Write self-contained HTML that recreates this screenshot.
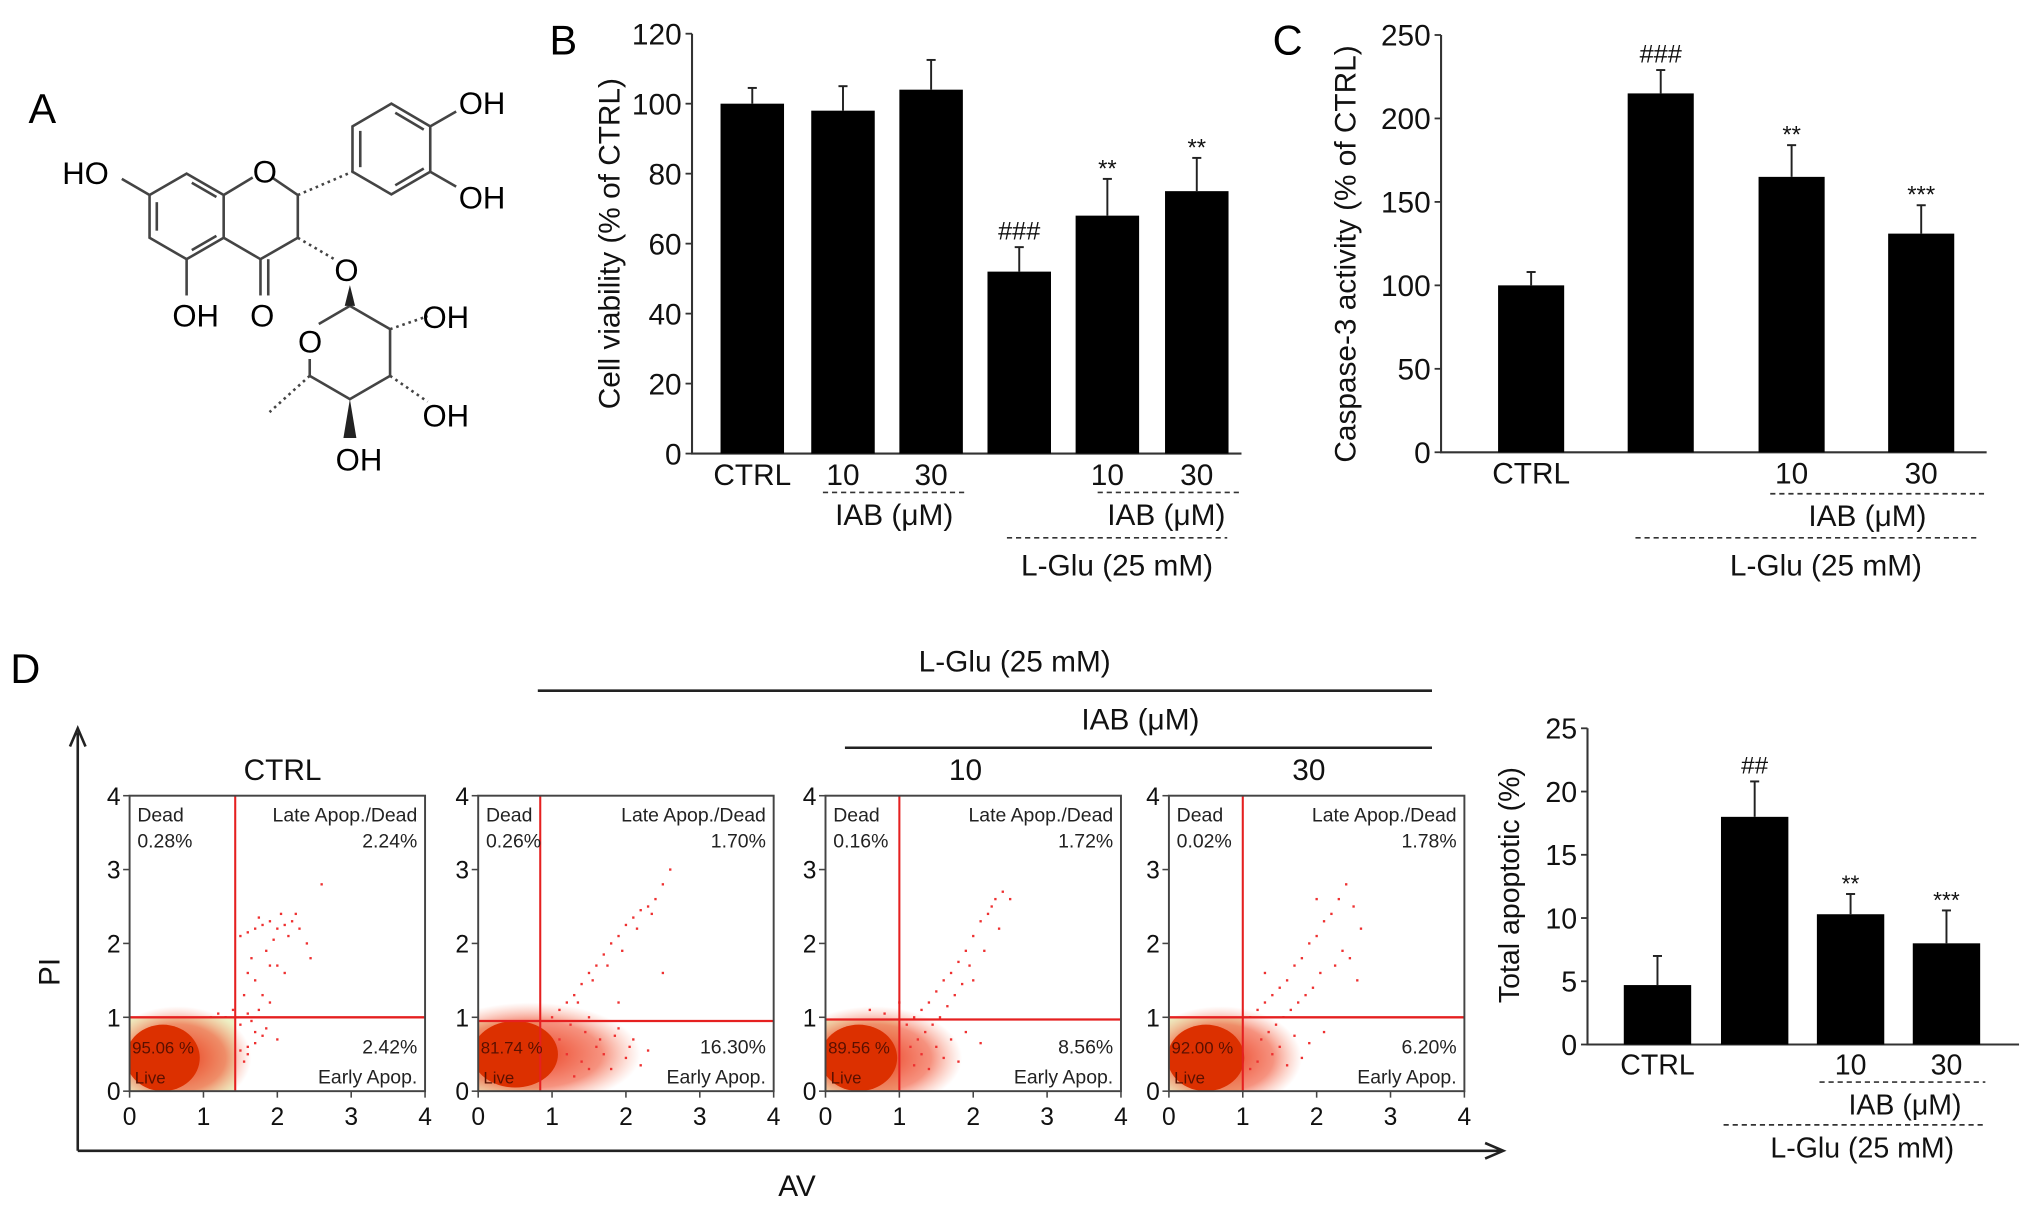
<!DOCTYPE html>
<html><head><meta charset="utf-8"><style>
html,body{margin:0;padding:0;background:#fff;}
svg{display:block;font-family:"Liberation Sans",sans-serif;}
</style></head><body>
<svg id="fig" width="2032" height="1210" viewBox="0 0 1568 933.7" xmlns="http://www.w3.org/2000/svg">
<rect width="1568" height="934" fill="#fff"/>
<!-- Panel A: chemical structure -->
<g stroke="#444" stroke-width="2" fill="none">
<text x="22" y="95" font-size="32" fill="#000" stroke="none">A</text>
<polygon points="144,134 172.6,150.5 172.6,183.5 144,200 115.4,183.5 115.4,150.5"/>
<line x1="121" y1="156" x2="121" y2="178"/><line x1="148" y1="193" x2="167" y2="182"/><line x1="148" y1="141" x2="167" y2="152"/>
<polyline points="172.6,150.5 195,137"/><polyline points="210,137 229.8,150.5 229.8,183.5 201,200 172.6,183.5"/>
<line x1="201" y1="200" x2="201" y2="228"/><line x1="207" y1="200" x2="207" y2="228"/>
<line x1="115.4" y1="150.5" x2="94" y2="138"/><line x1="144" y1="200" x2="144" y2="228"/>
<polygon points="302,80 332,97.5 332,132.5 302,150 272,132.5 272,97.5"/>
<line x1="278" y1="101" x2="278" y2="129"/><line x1="305" y1="143" x2="327" y2="130"/><line x1="305" y1="87" x2="327" y2="100"/>
<line x1="229.8" y1="150.5" x2="272" y2="132.5" stroke-dasharray="2,3"/>
<line x1="332" y1="97.5" x2="352" y2="86"/><line x1="332" y1="132.5" x2="352" y2="144"/>
<line x1="229.8" y1="183.5" x2="258" y2="200" stroke-dasharray="2,3"/>
<polyline points="246,250 270,236 301,254 301,290 270,308 239,290 239,277"/>
<polygon points="266,236 274,236 270,220" fill="#222" stroke="none"/>
<line x1="301" y1="254" x2="330" y2="244" stroke-dasharray="2,3"/>
<line x1="301" y1="290" x2="330" y2="310" stroke-dasharray="2,3"/>
<polygon points="270,308 265,338 275,338" fill="#222" stroke="none"/>
<line x1="239" y1="290" x2="208" y2="318" stroke-dasharray="2,3"/>
<g fill="#000" stroke="none" font-size="24">
<text x="48" y="142">HO</text><text x="195" y="141">O</text><text x="354" y="88">OH</text><text x="354" y="161">OH</text>
<text x="258" y="217">O</text><text x="193" y="252">O</text><text x="133" y="252">OH</text><text x="230" y="272">O</text>
<text x="326" y="253">OH</text><text x="326" y="329">OH</text><text x="259" y="363">OH</text>
</g></g>
<g id="charts"></g>
</svg>
<script>
// ---- Panel B data ----
const bCats = ["CTRL","10","30","","10","30"];
const bVals = [100, 98, 104, 52, 68, 75];
const bErr = [104.5, 105, 112.5, 59, 78.5, 84.5];
const bSig = ["","","","###","**","**"];
const bTicks = [0,20,40,60,80,100,120];
// ---- Panel C data ----
const cCats = ["CTRL","","10","30"];
const cVals = [100, 215, 165, 131];
const cErr = [108, 229, 184, 148];
const cSig = ["","###","**","***"];
const cTicks = [0,50,100,150,200,250];
// ---- Panel D bar data ----
const dCats = ["CTRL","","10","30"];
const dVals = [4.7, 18, 10.3, 8];
const dErr = [7, 20.8, 11.9, 10.6];
const dSig = ["","##","**","***"];
const dTicks = [0,5,10,15,20,25];
// ---- Flow cytometry data ----
const flowTitles = ["CTRL","","10","30"];
const gateX = [1.43, 0.84, 1.0, 1.0];
const gateY = [1.0, 0.95, 0.97, 1.0];
const pctDead = ["0.28%","0.26%","0.16%","0.02%"];
const pctLate = ["2.24%","1.70%","1.72%","1.78%"];
const pctEarly = ["2.42%","16.30%","8.56%","6.20%"];
const pctLive = ["95.06 %","81.74 %","89.56 %","92.00 %"];
const clusterX = [0.45, 0.5, 0.45, 0.5];
const clusterY = [0.45, 0.5, 0.45, 0.45];
const clusterRx = [0.5, 0.58, 0.52, 0.52];
const clusterRy = [0.45, 0.45, 0.45, 0.45];
const sprayRx = [1.0, 1.5, 1.2, 1.1];
const tailX1 = [1.5,1.6,1.7,1.8,1.9,2.0,2.1,2.2,2.3,1.75,1.95,2.05,2.15,1.65,1.85,2.25,1.6,1.7,1.9,2.0,2.1,1.55,1.8,2.4,2.6,1.6,1.75,1.9,1.5,1.7,1.85,2.0,1.6,1.4,1.3,1.2,1.1,1.55,2.45,1.65,1.6,1.7,1.8,1.5];
const tailY1 = [2.1,2.15,2.2,2.25,2.3,2.2,2.25,2.3,2.2,2.35,2.05,2.4,2.1,1.8,1.9,2.4,1.6,1.5,1.7,1.7,1.6,1.3,1.3,2.0,2.8,1.05,1.1,1.2,0.9,0.8,0.85,0.7,0.6,1.1,1.0,1.05,1.0,0.4,1.8,0.95,0.5,0.65,0.75,0.55];
const tailX2 = [1.0,1.1,1.2,1.3,1.4,1.5,1.6,1.7,1.8,1.9,2.0,2.1,2.2,2.3,2.4,2.5,2.6,1.35,1.55,1.75,1.95,2.15,2.35,1.25,1.45,1.65,1.85,2.05,1.2,1.4,1.6,1.8,2.0,2.2,1.3,1.5,1.7,1.9,2.1,2.3,2.5,1.1,1.5,1.9];
const tailY2 = [1.0,1.1,1.2,1.3,1.45,1.6,1.7,1.85,2.0,2.1,2.25,2.35,2.45,2.5,2.6,2.8,3.0,1.2,1.5,1.7,1.9,2.2,2.4,0.9,0.8,0.7,0.75,0.6,0.5,0.4,0.6,0.3,0.45,0.35,0.2,0.3,0.5,0.85,0.7,0.55,1.6,0.7,1.0,1.2];
const tailX3 = [1.1,1.2,1.3,1.4,1.5,1.6,1.7,1.8,1.9,2.0,2.1,2.2,2.3,2.4,2.25,2.35,2.15,1.95,1.85,1.75,1.65,1.55,1.45,1.35,1.25,1.15,1.3,1.5,1.7,1.9,2.1,1.2,1.4,1.6,1.8,2.0,0.8,0.6,2.5,1.0];
const tailY3 = [0.9,1.0,1.1,1.2,1.35,1.5,1.6,1.75,1.9,2.1,2.3,2.4,2.6,2.7,2.5,2.2,1.9,1.7,1.45,1.3,1.15,1.0,0.9,0.8,0.7,0.6,0.5,0.6,0.7,0.8,0.65,0.35,0.3,0.45,0.4,1.5,1.05,1.1,2.6,1.2];
const tailX4 = [1.1,1.2,1.3,1.4,1.5,1.6,1.7,1.8,1.9,2.0,2.1,2.2,2.3,2.4,2.5,2.6,2.35,2.25,2.05,1.95,1.85,1.75,1.65,1.55,1.45,1.35,1.25,1.5,1.7,1.9,2.1,1.2,1.4,1.6,1.8,2.45,2.55,2.0,1.3,1.1];
const tailY4 = [1.0,1.1,1.2,1.3,1.4,1.5,1.7,1.8,2.0,2.1,2.3,2.4,2.6,2.8,2.5,2.2,1.9,1.7,1.6,1.4,1.3,1.2,1.1,1.0,0.9,0.8,0.7,0.6,0.75,0.65,0.8,0.4,0.5,0.35,0.45,1.8,1.5,2.6,1.6,0.3];
const tailsX = [tailX1, tailX2, tailX3, tailX4];
const tailsY = [tailY1, tailY2, tailY3, tailY4];
const flowTicks = [0,1,2,3,4];

const NS = "http://www.w3.org/2000/svg";
const root = document.getElementById("charts");
function mk(tag, attrs, parent, txt) {
  const e = document.createElementNS(NS, tag);
  for (const k in attrs) e.setAttribute(k, attrs[k]);
  if (txt !== undefined) e.textContent = txt;
  (parent || root).appendChild(e);
  return e;
}

function barChart(opt) {
  const g = mk("g", {});
  
  
  const ys = v => opt.y0 - (v - 0) / opt.ymax * (opt.y0 - opt.ytop);
  const axis = mk("path", {d: `M${opt.ax},${opt.ytop} L${opt.ax},${opt.y0} L${opt.axEnd},${opt.y0}`, stroke: "#333", "stroke-width": 1.6, fill: "none"}, g);
  
  
  opt.ticks.forEach(t => {
    mk("line", {x1: opt.ax - 5, x2: opt.ax, y1: ys(t), y2: ys(t), stroke: "#333", "stroke-width": 1.4}, g);
    const tl = mk("text", {x: opt.ax - 8, y: ys(t) + opt.fs * 0.36, "font-size": opt.fs, "text-anchor": "end", fill: "#111"}, g, String(t));
    
    
  });
  opt.vals.forEach((v, i) => {
    const x = opt.bx[i];
    const b = mk("rect", {x: x, y: ys(v), width: opt.bw, height: opt.y0 - ys(v), fill: "#000"}, g);
    
    
    const cx = x + opt.bw / 2;
    mk("line", {x1: cx, x2: cx, y1: ys(v), y2: ys(opt.err[i]), stroke: "#222", "stroke-width": 1.5}, g);
    mk("line", {x1: cx - 3.5, x2: cx + 3.5, y1: ys(opt.err[i]), y2: ys(opt.err[i]), stroke: "#222", "stroke-width": 1.5}, g);
    if (opt.sig[i]) {
      const st = opt.sig[i].startsWith("#");
      const s = mk("text", {x: cx, y: ys(opt.err[i]) - (st ? 6 : 2), "font-size": st ? opt.fs * 0.85 : opt.fs * 0.8, "text-anchor": "middle", fill: "#111"}, g, opt.sig[i]);
      
      
    }
    if (opt.cats[i]) {
      const c = mk("text", {x: cx, y: opt.y0 + opt.fs * 1.05, "font-size": opt.fs, "text-anchor": "middle", fill: "#111"}, g, opt.cats[i]);
      
      
    }
  });
  const t = mk("text", {transform: `translate(${opt.tx},${opt.ty}) rotate(-90)`, "font-size": opt.fs, "text-anchor": "middle", fill: "#111"}, g, opt.title);
  
  
  opt.dashes.forEach(d => {
    const l = mk("line", {x1: d[0], x2: d[1], y1: d[2], y2: d[2], stroke: "#333", "stroke-width": 1.3, "stroke-dasharray": "4,3"}, g);
    
    
  });
  opt.groups.forEach(d => {
    const l = mk("text", {x: d[0], y: d[1], "font-size": opt.fs, "text-anchor": "middle", fill: "#111"}, g, d[2]);
    
    
  });
  return g;
}

barChart({name: "panel-b-cell-viability", ax: 534, axEnd: 958, y0: 350, ytop: 26, ymax: 120, ticks: bTicks, vals: bVals, err: bErr, sig: bSig, cats: bCats,
  bx: [556, 626, 694, 762, 830, 899], bw: 49, fs: 23, title: "Cell viability (% of CTRL)", tx: 478, ty: 188,
  dashes: [[635, 744, 380], [847, 958, 380], [777, 947, 415]],
  groups: [[690, 405, "IAB (μM)"], [900, 405, "IAB (μM)"], [862, 444, "L-Glu (25 mM)"]]});
mk("text", {x: 424, y: 42, "font-size": 32, fill: "#000"}, root, "B");

barChart({name: "panel-c-caspase3", ax: 1112, axEnd: 1533, y0: 349, ytop: 27, ymax: 250, ticks: cTicks, vals: cVals, err: cErr, sig: cSig, cats: cCats,
  bx: [1156, 1256, 1357, 1457], bw: 51, fs: 23, title: "Caspase-3 activity (% of CTRL)", tx: 1046, ty: 196,
  dashes: [[1366, 1532, 381], [1262, 1526, 415]],
  groups: [[1441, 406, "IAB (μM)"], [1409, 444, "L-Glu (25 mM)"]]});
mk("text", {x: 982, y: 42, "font-size": 32, fill: "#000"}, root, "C");

barChart({name: "panel-d-total-apoptotic", ax: 1225, axEnd: 1558, y0: 806, ytop: 562, ymax: 25, ticks: dTicks, vals: dVals, err: dErr, sig: dSig, cats: dCats,
  bx: [1253, 1328, 1402, 1476], bw: 52, fs: 22, title: "Total apoptotic (%)", tx: 1172, ty: 683,
  dashes: [[1404, 1532, 835], [1330, 1532, 868]],
  groups: [[1470, 860, "IAB (μM)"], [1437, 893, "L-Glu (25 mM)"]]});
mk("text", {x: 8, y: 527, "font-size": 32, fill: "#000"}, root, "D");

// ---- Flow plots ----
const defs = mk("defs", {});
const rg = mk("radialGradient", {id: "halo"}, defs);
mk("stop", {offset: "0%", "stop-color": "#e83010", "stop-opacity": 0.95}, rg);
mk("stop", {offset: "65%", "stop-color": "#f04a2a", "stop-opacity": 0.6}, rg);
mk("stop", {offset: "100%", "stop-color": "#f88060", "stop-opacity": 0}, rg);

const boxX = [100, 369, 637, 902];
const boxW = 228, boxTop = 614, boxBot = 842;
flowTitles.forEach((title, i) => {
  const g = mk("g", {});
  
  
  const x0 = boxX[i];
  const sx = v => x0 + v / 4 * boxW;
  const sy = v => boxBot - v / 4 * (boxBot - boxTop);
  const cp = mk("clipPath", {id: "clip" + i}, defs);
  mk("rect", {x: x0, y: boxTop, width: boxW, height: boxBot - boxTop}, cp);
  const inner = mk("g", {"clip-path": `url(#clip${i})`}, g);
  mk("rect", {x: sx(0), y: sy(gateY[i]), width: sx(gateX[i]) - sx(0), height: sy(0) - sy(gateY[i]), fill: "#edf2c6"}, inner);
  mk("ellipse", {cx: sx(clusterX[i] + 0.2), cy: sy(clusterY[i]), rx: sx(sprayRx[i]) - sx(0), ry: sy(0) - sy(clusterRy[i] + 0.25), fill: "url(#halo)"}, inner);
  const cl = mk("ellipse", {cx: sx(clusterX[i]), cy: sy(clusterY[i]), rx: sx(clusterRx[i]) - sx(0), ry: sy(0) - sy(clusterRy[i]), fill: "#dc3000"}, inner);
  
  
  tailsX[i].forEach((xv, k) => {
    const p = mk("rect", {x: sx(xv) - 0.9, y: sy(tailsY[i][k]) - 0.9, width: 1.8, height: 1.8, fill: "#ee3030"}, inner);
    
    
  });
  mk("line", {x1: sx(gateX[i]), x2: sx(gateX[i]), y1: boxTop, y2: boxBot, stroke: "#e52020", "stroke-width": 1.6}, g);
  mk("line", {x1: sx(0), x2: sx(4), y1: sy(gateY[i]), y2: sy(gateY[i]), stroke: "#e52020", "stroke-width": 1.8}, g);
  mk("rect", {x: x0, y: boxTop, width: boxW, height: boxBot - boxTop, fill: "none", stroke: "#444", "stroke-width": 1.5}, g);
  flowTicks.forEach(t => {
    mk("line", {x1: sx(t), x2: sx(t), y1: boxBot, y2: boxBot + 5, stroke: "#444", "stroke-width": 1.2}, g);
    mk("line", {x1: x0 - 5, x2: x0, y1: sy(t), y2: sy(t), stroke: "#444", "stroke-width": 1.2}, g);
    const xl = mk("text", {x: sx(t), y: boxBot + 26, "font-size": 19, "text-anchor": "middle", fill: "#111"}, g, String(t));
    
    
    const yl = mk("text", {x: x0 - 7, y: sy(t) + 7, "font-size": 19, "text-anchor": "end", fill: "#111"}, g, String(t));
    
    
  });
  const fs = 15;
  mk("text", {x: x0 + 6, y: 634, "font-size": fs, fill: "#222"}, g, "Dead");
  mk("text", {x: x0 + 6, y: 654, "font-size": fs, fill: "#222"}, g, pctDead[i]);
  mk("text", {x: x0 + boxW - 6, y: 634, "font-size": fs, "text-anchor": "end", fill: "#222"}, g, "Late Apop./Dead");
  mk("text", {x: x0 + boxW - 6, y: 654, "font-size": fs, "text-anchor": "end", fill: "#222"}, g, pctLate[i]);
  mk("text", {x: x0 + boxW - 6, y: 813, "font-size": fs, "text-anchor": "end", fill: "#222"}, g, pctEarly[i]);
  mk("text", {x: x0 + boxW - 6, y: 836, "font-size": fs, "text-anchor": "end", fill: "#222"}, g, "Early Apop.");
  mk("text", {x: x0 + 2, y: 813, "font-size": 13, fill: "#5a1000"}, g, pctLive[i]);
  mk("text", {x: x0 + 4, y: 836, "font-size": 13, fill: "#5a1000"}, g, "Live");
  if (title) {
    const tt = mk("text", {x: x0 + (i === 0 ? 118 : 108), y: 602, "font-size": 23, "text-anchor": "middle", fill: "#111"}, g, title);
    
    
  }
});
// group headers and big axes for flow panel
const fg = mk("g", {});


mk("text", {x: 783, y: 518, "font-size": 23, "text-anchor": "middle", fill: "#111"}, fg, "L-Glu (25 mM)");
mk("line", {x1: 415, x2: 1105, y1: 533, y2: 533, stroke: "#222", "stroke-width": 2}, fg);
mk("text", {x: 880, y: 563, "font-size": 23, "text-anchor": "middle", fill: "#111"}, fg, "IAB (μM)");
mk("line", {x1: 652, x2: 1105, y1: 577, y2: 577, stroke: "#222", "stroke-width": 2}, fg);
mk("path", {d: "M60,888 L60,565 M54,576 L60,562 L66,576", stroke: "#222", "stroke-width": 2, fill: "none"}, fg);
mk("path", {d: "M60,888 L1158,888 M1146,882 L1160,888 L1146,894", stroke: "#222", "stroke-width": 2, fill: "none"}, fg);
mk("text", {transform: "translate(46,750) rotate(-90)", "font-size": 23, "text-anchor": "middle", fill: "#111"}, fg, "PI");
mk("text", {x: 615, y: 923, "font-size": 23, "text-anchor": "middle", fill: "#111"}, fg, "AV");
</script>
</body></html>
